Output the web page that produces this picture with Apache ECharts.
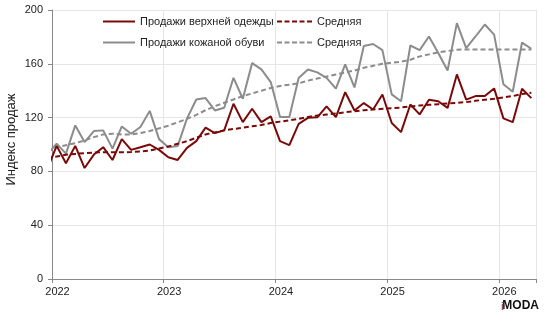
<!DOCTYPE html>
<html>
<head>
<meta charset="utf-8">
<script src="https://cdn.jsdelivr.net/npm/echarts@6/dist/echarts.min.js"></script>
<style>
html,body{margin:0;padding:0;background:#fff;}
#chart{width:545px;height:321px;}
</style>
</head>
<body>
<div id="chart"></div>
<script>
// Months (mid-month points); first one lies before the axis start and is clipped
const months = [
  "2021-12",
  "2022-01","2022-02","2022-03","2022-04","2022-05","2022-06","2022-07","2022-08","2022-09","2022-10","2022-11","2022-12",
  "2023-01","2023-02","2023-03","2023-04","2023-05","2023-06","2023-07","2023-08","2023-09","2023-10","2023-11","2023-12",
  "2024-01","2024-02","2024-03","2024-04","2024-05","2024-06","2024-07","2024-08","2024-09","2024-10","2024-11","2024-12",
  "2025-01","2025-02","2025-03","2025-04","2025-05","2025-06","2025-07","2025-08","2025-09","2025-10","2025-11","2025-12",
  "2026-01","2026-02","2026-03","2026-04"
];
const outerwear = [
  82,
  99,86,99,82.5,92.5,98,88.5,104,96,98,100,96,
  90.5,88.5,97.5,102.5,112.5,108.5,110.5,130.3,116.6,126.6,116.6,120.9,
  102.5,99.5,115.4,119.8,120.2,128.4,120.4,138.9,125.3,130.8,126,137.2,
  116,109.2,129.7,122.4,133.3,132.2,127.2,152.1,133.4,136,136,141.7,
  119.4,116.6,141.5,134.5
];
const outerwearAvg = [
  89.8,
  91,92.4,93,93.6,94,94.3,94.3,94.2,94.4,94.8,95.5,97,
  98.5,100.5,102.5,105,107.5,109,110.5,111.5,112.5,113.5,114.5,116,
  117,118,119,120.5,121.5,122.3,123,124,124.8,125.5,126,126.5,
  127,127.5,128.3,129,129.5,130,130.5,131,131.5,132.5,133.3,134,
  135,136,137.5,138.5
];
const leatherShoes = [
  93,
  100.6,93.2,114.2,101.8,110,110.5,96.9,113.4,108,113,125,104,
  98,98.8,119.2,133.5,134.5,125.3,127.3,149.6,134,160.5,155.8,146.4,
  120.4,120.4,149.5,155.8,153.6,149.6,141.6,159.5,142.4,173.3,174.7,170.2,
  137.3,132.1,173.6,170.2,180.3,168,155,190.2,171.7,180.3,189.2,181.7,
  144.8,139.2,175.8,171.2
];
const leatherShoesAvg = [
  95,
  98,99.5,101,103,105.5,107.5,108,107.5,107.5,108.5,110,112,
  114,116.5,119,122,125.5,128.5,131,133.5,136,138,140,142,
  143.5,144.5,145.5,147.5,149,150.5,152,153.5,155,157,158.5,160,
  160.8,161.5,163,165.5,167,168.5,169.5,170.5,170.7,170.7,170.7,170.7,
  170.7,170.7,170.7,170.7
];
const yTicks = [0, 40, 80, 120, 160, 200];
const yearLabels = ["2022","2023","2024","2025","2026"];
const names = {
  outer: "Продажи верхней одежды",
  shoes: "Продажи кожаной обуви",
  avg1: "Средняя",
  avg2: "Средняя "
};
const yTitle = "Индекс продаж";

// month index from Jan 2022 start, plotted at mid-month
function mx(m){
  const [y, mo] = m.split("-").map(Number);
  return (y - 2022) * 12 + (mo - 1) + 0.5;
}
function pairs(vals){ return months.map((m,i)=>[mx(m), vals[i]]); }

const RED = "#7a0a0a";
const GRAY = "#8c8c8c";
const FONT = "Liberation Sans";
const SOLID_ICON = "path://M0,0h32v2h-32z";
const DASH_ICON = "path://M0,0h5v2h-5zM7.5,0h5v2h-5zM15,0h5v2h-5zM22.5,0h5v2h-5zM30,0h5v2h-5z";

const chart = echarts.init(document.getElementById("chart"), null, {renderer:"canvas"});
chart.setOption({
  animation:false,
  backgroundColor:"#fff",
  textStyle:{fontFamily:FONT},
  grid:{left:52, right:9, top:10, bottom:42, containLabel:false, outerBoundsMode:"none"},
  xAxis:{
    type:"value", min:0, max:52, interval:12,
    axisLine:{show:true, lineStyle:{color:"#888", width:1}},
    axisTick:{show:true, length:4, lineStyle:{color:"#888"}},
    axisLabel:{
      color:"#222", fontSize:11, fontFamily:FONT, margin:7, padding:[0,0,0,11],
      formatter:(v)=>{ const i = Math.round(v/12); return (v % 12 === 0 && yearLabels[i]) ? yearLabels[i] : ""; }
    },
    splitLine:{show:true, lineStyle:{color:"#e6e6e6", width:1}}
  },
  yAxis:{
    type:"value", min:yTicks[0], max:yTicks[yTicks.length-1], interval:40,
    name:yTitle, nameLocation:"middle", nameGap:34, nameRotate:90, nameMoveOverlap:false,
    nameTextStyle:{color:"#222", fontSize:13, fontFamily:FONT, padding:[0,0,0,10]},
    axisLine:{show:true, lineStyle:{color:"#888", width:1}},
    axisTick:{show:true, length:4, lineStyle:{color:"#888"}},
    axisLabel:{color:"#222", fontSize:11, fontFamily:FONT, margin:9},
    splitLine:{show:true, lineStyle:{color:"#e6e6e6", width:1}}
  },
  legend:[
    {
      orient:"vertical", left:98, top:11, itemWidth:32, itemHeight:2, itemGap:10,
      textStyle:{color:"#222", fontSize:11, fontFamily:FONT},
      data:[{name:names.outer, icon:SOLID_ICON}, {name:names.shoes, icon:SOLID_ICON}], selectedMode:false
    },
    {
      orient:"vertical", left:272, top:11, itemWidth:35, itemHeight:2, itemGap:10,
      textStyle:{color:"#222", fontSize:11, fontFamily:FONT},
      data:[{name:names.avg1, icon:DASH_ICON}, {name:names.avg2, icon:DASH_ICON}], selectedMode:false
    }
  ],
  series:[
    {name:names.outer, type:"line", data:pairs(outerwear), symbol:"none", clip:true,
     lineStyle:{color:RED, width:2}, itemStyle:{color:RED}, z:4},
    {name:names.avg1, type:"line", data:pairs(outerwearAvg), symbol:"none", clip:true,
     lineStyle:{color:RED, width:2, type:[5,3]}, itemStyle:{color:RED}, z:3},
    {name:names.shoes, type:"line", data:pairs(leatherShoes), symbol:"none", clip:true,
     lineStyle:{color:GRAY, width:2}, itemStyle:{color:GRAY}, z:2},
    {name:names.avg2, type:"line", data:pairs(leatherShoesAvg), symbol:"none", clip:true,
     lineStyle:{color:GRAY, width:2, type:[5,3]}, itemStyle:{color:GRAY}, z:1}
  ],
  graphic:[
    {type:"text", right:6, top:300, style:{text:"MODA", font:"bold 12px 'Liberation Sans'", fill:"#111"}},
    {type:"text", right:41, top:301, style:{text:"i", font:"bold 11px 'Liberation Sans'", fill:"#8a5060"}}
  ]
});
</script>
</body>
</html>
